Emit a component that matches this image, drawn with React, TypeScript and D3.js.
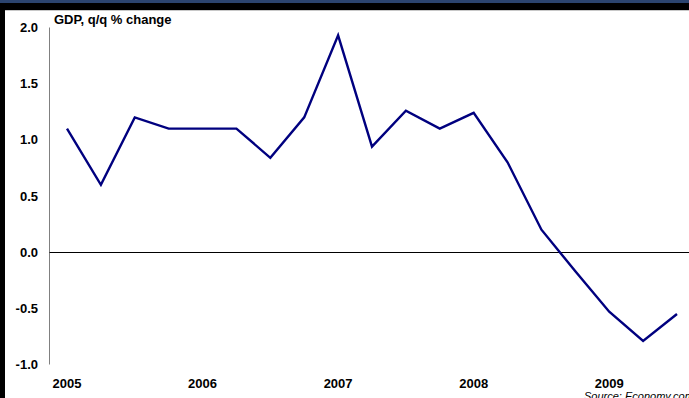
import React from "react";
import * as d3 from "d3";

const quarters = [
  "2005Q1","2005Q2","2005Q3","2005Q4",
  "2006Q1","2006Q2","2006Q3","2006Q4",
  "2007Q1","2007Q2","2007Q3","2007Q4",
  "2008Q1","2008Q2","2008Q3","2008Q4",
  "2009Q1","2009Q2","2009Q3",
];
const gdpChange = [
  1.10, 0.60, 1.20, 1.10,
  1.10, 1.10, 0.84, 1.20,
  1.93, 0.94, 1.26, 1.10,
  1.24, 0.80, 0.20, -0.17,
  -0.53, -0.79, -0.55,
];
const yTicks = [2.0, 1.5, 1.0, 0.5, 0.0, -0.5, -1.0];
const yearLabels = ["2005", "2006", "2007", "2008", "2009"];

const W = 689;
const H = 398;
const FONT = "'Liberation Sans', Arial, sans-serif";

export default function App() {
  const x = d3.scaleLinear().domain([0, 18]).range([67, 677]);
  const y = d3.scaleLinear().domain([-1, 2]).range([364.5, 27.5]);
  const line = d3
    .line<number>()
    .x((_, i) => x(i))
    .y((d) => y(d));
  const zeroY = Math.round(y(0)) + 0.5;

  return (
    <svg
      width={W}
      height={H}
      style={{ position: "absolute", left: 0, top: 0, background: "#fff" }}
    >
      <rect x={0} y={0} width={W} height={H} fill="#fff" />
      {/* top bands */}
      <rect x={0} y={0} width={W} height={3} fill="#2c4570" />
      <rect x={0} y={3} width={W} height={7} fill="#000" />
      <line x1={0} x2={W} y1={10.5} y2={10.5} stroke="#c8c8c8" strokeWidth={1} />
      {/* left border */}
      <rect x={0} y={3} width={5} height={H} fill="#000" />

      {/* y axis */}
      <line x1={49.5} x2={49.5} y1={y(2)} y2={y(-1)} stroke="#808080" strokeWidth={1} />
      {yTicks.map((t) => (
        <text
          key={t}
          x={38}
          y={y(t)}
          dy="0.35em"
          textAnchor="end"
          fontFamily={FONT}
          fontWeight="bold"
          fontSize={13}
          fill="#000"
        >
          {d3.format(".1f")(t).replace("−", "-")}
        </text>
      ))}
      {/* zero line */}
      <line x1={49.5} x2={W} y1={zeroY} y2={zeroY} stroke="#000" strokeWidth={1} />

      {/* x labels */}
      {yearLabels.map((yr) => {
        const idx = quarters.indexOf(yr + "Q1");
        return (
          <text
            key={yr}
            x={x(idx)}
            y={388}
            textAnchor="middle"
            fontFamily={FONT}
            fontWeight="bold"
            fontSize={13}
            fill="#000"
          >
            {yr}
          </text>
        );
      })}

      {/* title */}
      <text x={54} y={24} fontFamily={FONT} fontWeight="bold" fontSize={13} fill="#000">
        GDP, q/q % change
      </text>

      {/* series */}
      <path
        d={line(gdpChange) || ""}
        fill="none"
        stroke="#00007f"
        strokeWidth={2.4}
        strokeLinejoin="miter"
      />

      {/* source */}
      <text
        x={584}
        y={400}
        fontFamily={FONT}
        fontStyle="italic"
        fontSize={11}
        fill="#000"
      >
        Source: Economy.com
      </text>
    </svg>
  );
}
